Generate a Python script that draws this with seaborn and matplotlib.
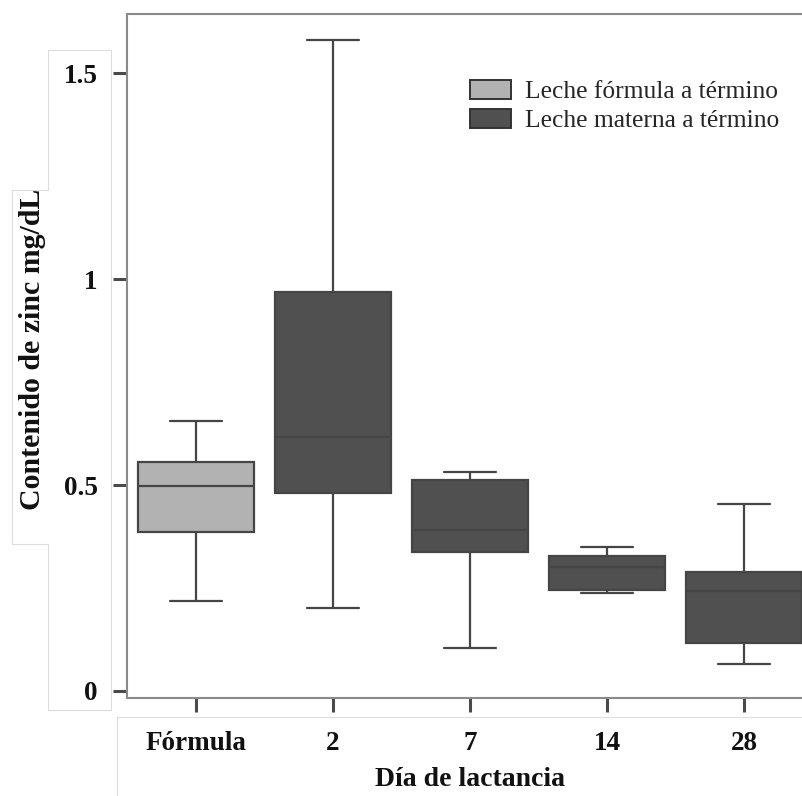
import numpy as np
import pandas as pd
import seaborn as sns
import matplotlib
matplotlib.use("Agg")
import matplotlib.pyplot as plt
from matplotlib.patches import Patch
from matplotlib.lines import Line2D

# Categories and five-number summaries (min, q1, median, q3, max)
categories = ["Fórmula", "2", "7", "14", "28"]
groups = ["Leche fórmula a término", "Leche materna a término",
          "Leche materna a término", "Leche materna a término",
          "Leche materna a término"]
formula_vals = [0.218, 0.387, 0.498, 0.557, 0.656]
day2_vals = [0.201, 0.481, 0.617, 0.970, 1.581]
day7_vals = [0.104, 0.338, 0.391, 0.512, 0.533]
day14_vals = [0.239, 0.245, 0.301, 0.329, 0.350]
day28_vals = [0.066, 0.117, 0.242, 0.290, 0.453]
yticks = [0, 0.5, 1, 1.5]
ytick_labels = ["0", "0.5", "1", "1.5"]

all_vals = [formula_vals, day2_vals, day7_vals, day14_vals, day28_vals]
rows = []
for cat, grp, vals in zip(categories, groups, all_vals):
    for v in vals:
        rows.append({"Día": cat, "Grupo": grp, "Zinc": v})
df = pd.DataFrame(rows)

sns.set_theme(style="white")
plt.rcParams["font.family"] = ["Liberation Serif", "DejaVu Serif"]

fig = plt.figure(figsize=(8.03, 7.96), dpi=100)
ax = fig.add_axes([127 / 803, 1 - 698 / 796, (813 - 127) / 803, (698 - 14) / 796])

palette = {"Leche fórmula a término": "#b2b2b2",
           "Leche materna a término": "#505050"}
sns.boxplot(data=df, x="Día", y="Zinc", hue="Grupo", order=categories,
            palette=palette, dodge=False, width=0.845, whis=(0, 100),
            linecolor="#454545", linewidth=1.6, capwidths=0.38,
            legend=False, ax=ax)

ax.set_xlim(-0.5, 4.5)
ax.set_ylim(-0.017, 1.644)
ax.set_yticks(yticks)
ax.set_yticklabels(ytick_labels)

for s in ["left", "top", "bottom", "right"]:
    ax.spines[s].set_color("#8a8a8a")
    ax.spines[s].set_linewidth(1.5)

ax.tick_params(axis="both", which="both", direction="out", length=10,
               width=2.2, color="#4a4a4a", left=True, bottom=True)
ax.tick_params(axis="y", pad=11, labelsize=19.5)
ax.tick_params(axis="x", pad=14, labelsize=19.5)
for lab in ax.get_xticklabels() + ax.get_yticklabels():
    lab.set_fontweight("bold")
    lab.set_color("#111111")

ax.set_xlabel("Día de lactancia", fontsize=20, fontweight="bold",
              color="#111111", labelpad=8)
ax.set_ylabel("Contenido de zinc mg/dL", fontsize=21.5, fontweight="bold",
              color="#111111")
ax.yaxis.set_label_coords(-0.118, 0.51)

handles = [Patch(facecolor=palette[g], edgecolor="#333333", linewidth=1.4, label=g)
           for g in ["Leche fórmula a término", "Leche materna a término"]]
fig.legend(handles=handles, loc="upper left",
           bbox_to_anchor=(470 / 803, 1 - 80 / 796), bbox_transform=fig.transFigure,
           frameon=False, fontsize=18.4, handlelength=1.6, handleheight=0.75,
           handletextpad=0.55, labelspacing=0.22, borderaxespad=0, borderpad=0)

# faint framing lines around label areas, as in the reference
c = "#dddddd"
def fl(xs, ys):
    fig.add_artist(Line2D([x / 803 for x in xs], [1 - y / 796 for y in ys],
                          color=c, linewidth=0.8, transform=fig.transFigure))
fl([48, 111, 111, 48, 48, 12, 12, 48, 48], [50, 50, 710, 710, 544, 544, 190, 190, 50])
fl([117, 117, 803], [796, 717, 717])

fig.savefig("out.png", dpi=100, facecolor="white")
